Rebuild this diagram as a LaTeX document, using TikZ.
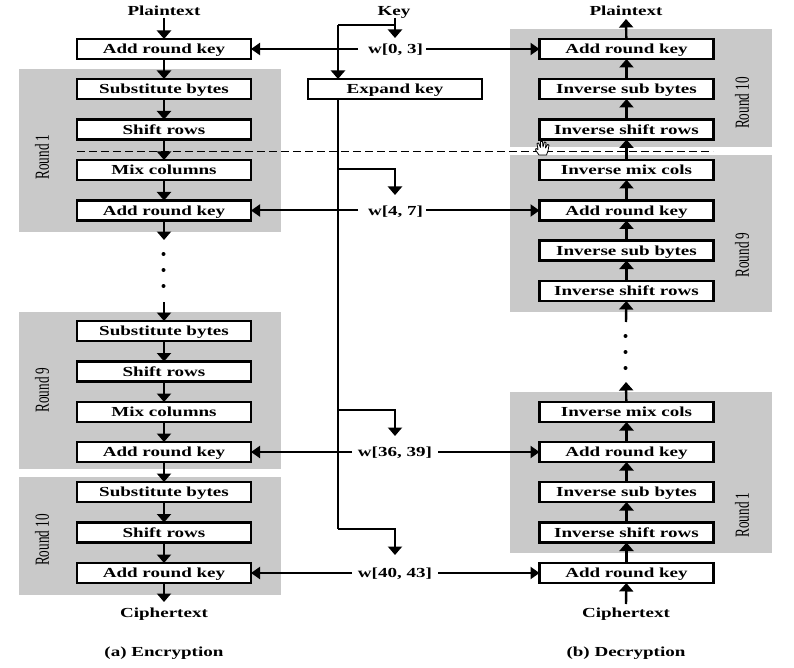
\documentclass[tikz,border=0pt]{standalone}
\usepackage{fontspec}
\usepackage{tikz}
\usetikzlibrary{arrows.meta}
\setmainfont[FakeStretch=1.38]{Liberation Serif}
\newfontfamily\roundfont[FakeStretch=0.66]{Liberation Serif}
\definecolor{bandgray}{HTML}{C9C9C9}
\tikzset{
	band/.style={shape=rectangle,fill=bandgray,minimum width=262pt,outer sep=0pt},
	box/.style={shape=rectangle,draw=black,fill=white,line width=2.4pt,minimum width=174pt,minimum height=20pt,inner sep=0pt,outer sep=0pt,font=\fontsize{13.8}{15}\selectfont\bfseries,text height=10.5pt,text depth=1.3pt},
	thinbox/.style={box,line width=1.8pt},
	txt/.style={inner sep=0pt,outer sep=0pt,font=\fontsize{13.8}{15}\selectfont\bfseries,text height=10.5pt,text depth=1.3pt},
	wlabel/.style={txt,minimum height=10pt},
	roundlabel/.style={inner sep=0pt,rotate=90,font=\fontsize{20}{22}\selectfont\roundfont},
	dot/.style={shape=circle,fill=black,minimum size=4pt,inner sep=0pt},
	arr/.style={-{Triangle[length=8.5pt,width=14pt]},line width=2.4pt},
	warr/.style={-{Triangle[length=9pt,width=12pt]},line width=2pt},
	wire/.style={line width=2pt}
}
\begin{document}
\begin{tikzpicture}[x=1pt,y=-1pt]
	\useasboundingbox (0,0) rectangle (794,668);

	\node[band,minimum height=163pt] (bandE1) at (150, 150.5) {};
	\node[band,minimum height=157pt] (bandE9) at (150, 390.5) {};
	\node[band,minimum height=118pt] (bandE10) at (150, 536) {};
	\node[band,minimum height=118pt] (bandD10) at (641, 88) {};
	\node[band,minimum height=157pt] (bandD9) at (641, 233.5) {};
	\node[band,minimum height=161pt] (bandD1) at (641, 472.5) {};

	\node[roundlabel] (labE1) at (42, 157) {Round 1};
	\node[roundlabel] (labE9) at (42, 390) {Round 9};
	\node[roundlabel] (labE10) at (42, 540) {Round 10};
	\node[roundlabel] (labD10) at (742, 103) {Round 10};
	\node[roundlabel] (labD9) at (742, 255) {Round 9};
	\node[roundlabel] (labD1) at (742, 515) {Round 1};

	\draw[dashed,line width=1pt,dash pattern=on 8pt off 4pt] (77,151.5) -- (713,151.5);

	\node[txt] (pe) at (164, 11) {Plaintext};
	\node[txt] (ce) at (164, 612.4) {Ciphertext};
	\node[txt] (pd) at (626, 11) {Plaintext};
	\node[txt] (cd) at (626, 612.4) {Ciphertext};
	\node[txt] (key) at (394, 11) {Key};
	\node[txt] (capa) at (164, 652) {(a) Encryption};
	\node[txt] (capb) at (626, 652) {(b) Decryption};

	\node[box] (e0) at (164, 49) {Add round key};
	\node[box] (e1) at (164, 89) {Substitute bytes};
	\node[box] (e2) at (164, 129.5) {Shift rows};
	\node[box] (e3) at (164, 170) {Mix columns};
	\node[box] (e4) at (164, 210.5) {Add round key};
	\node[box] (e5) at (164, 331) {Substitute bytes};
	\node[box] (e6) at (164, 371.5) {Shift rows};
	\node[box] (e7) at (164, 412) {Mix columns};
	\node[box] (e8) at (164, 452) {Add round key};
	\node[box] (e9) at (164, 492) {Substitute bytes};
	\node[box] (e10) at (164, 532.5) {Shift rows};
	\node[box] (e11) at (164, 573) {Add round key};

	\node[box] (d0) at (626.5, 49) {Add round key};
	\node[box] (d1) at (626.5, 89) {Inverse sub bytes};
	\node[box] (d2) at (626.5, 129.5) {Inverse shift rows};
	\node[box] (d3) at (626.5, 170) {Inverse mix cols};
	\node[box] (d4) at (626.5, 210.5) {Add round key};
	\node[box] (d5) at (626.5, 250.5) {Inverse sub bytes};
	\node[box] (d6) at (626.5, 291) {Inverse shift rows};
	\node[box] (d7) at (626.5, 412) {Inverse mix cols};
	\node[box] (d8) at (626.5, 452) {Add round key};
	\node[box] (d9) at (626.5, 492) {Inverse sub bytes};
	\node[box] (d10) at (626.5, 532.5) {Inverse shift rows};
	\node[box] (d11) at (626.5, 573) {Add round key};

	\node[thinbox] (exp) at (395, 89) {Expand key};

	\node[wlabel,minimum width=61pt] (w0) at (395.5, 49) {w[0, 3]};
	\node[wlabel,minimum width=61pt] (w4) at (395.5, 210.5) {w[4, 7]};
	\node[wlabel,minimum width=86pt] (w36) at (395, 452) {w[36, 39]};
	\node[wlabel,minimum width=86pt] (w40) at (395, 573) {w[40, 43]};

	\node[dot] (l1) at (163.5, 254) {};
	\node[dot] (l2) at (163.5, 270) {};
	\node[dot] (l3) at (163.5, 286) {};
	\node[dot] (r1) at (625.5, 336) {};
	\node[dot] (r2) at (625.5, 352) {};
	\node[dot] (r3) at (625.5, 368) {};

	\coordinate (ks) at (395, 18);
	\coordinate (kt) at (395, 38);
	\coordinate (kb) at (395, 25);
	\coordinate (ke) at (338, 25);
	\coordinate (ex) at (338, 79);
	\coordinate (ed) at (338, 99);
	\coordinate (b4) at (338, 169);
	\coordinate (b36) at (338, 410);
	\coordinate (b40) at (338, 529);
	\coordinate (t4) at (395, 195);
	\coordinate (t36) at (395, 436);
	\coordinate (t40) at (395, 555);
	\coordinate (pes) at (164, 18);
	\coordinate (pdt) at (626, 19);
	\coordinate (ces) at (164, 602);
	\coordinate (cds) at (626, 604);
	\coordinate (lo) at (164, 240);
	\coordinate (li) at (164, 302);
	\coordinate (ro) at (626, 322);
	\coordinate (ri) at (626, 382);

	\path[arr] (pes) edge (e0);
	\path[arr] (e0) edge (e1);
	\path[arr] (e1) edge (e2);
	\path[arr] (e2) edge (e3);
	\path[arr] (e3) edge (e4);
	\path[arr] (e4) edge (lo);
	\path[arr] (li) edge (e5);
	\path[arr] (e5) edge (e6);
	\path[arr] (e6) edge (e7);
	\path[arr] (e7) edge (e8);
	\path[arr] (e8) edge (e9);
	\path[arr] (e9) edge (e10);
	\path[arr] (e10) edge (e11);
	\path[arr] (e11) edge (ces);

	\path[arr] (cds) edge (d11);
	\path[arr] (d11) edge (d10);
	\path[arr] (d10) edge (d9);
	\path[arr] (d9) edge (d8);
	\path[arr] (d8) edge (d7);
	\path[arr] (d7) edge (ri);
	\path[arr] (ro) edge (d6);
	\path[arr] (d6) edge (d5);
	\path[arr] (d5) edge (d4);
	\path[arr] (d4) edge (d3);
	\path[arr] (d3) edge (d2);
	\path[arr] (d2) edge (d1);
	\path[arr] (d1) edge (d0);
	\path[arr] (d0) edge (pdt);

	\path[arr] (ks) edge (kt);
	\draw[wire] (kb) -- (ke);
	\draw[arr] (ke) -- (ex);
	\draw[wire] (ed) -- (b40);
	\draw[arr] (b4) -| (t4);
	\draw[arr] (b36) -| (t36);
	\draw[arr] (b40) -| (t40);

	\path[warr,shorten <=7pt] (w0) edge (e0);
	\path[warr] (w0) edge (d0);
	\path[warr,shorten <=7pt] (w4) edge (e4);
	\path[warr] (w4) edge (d4);
	\path[warr] (w36) edge (e8);
	\path[warr] (w36) edge (d8);
	\path[warr] (w40) edge (e11);
	\path[warr] (w40) edge (d11);

	\draw[fill=white,line width=0.8pt,line join=round] (539,155) -- (535.5,150) -- (536,148.5) -- (538,149.5) -- (537,143.5) -- (538.5,143) -- (540.5,147.5) -- (540.5,141.5) -- (542.5,141.5) -- (543,147) -- (544.5,142) -- (546,142.5) -- (545.5,148) -- (547.5,144.5) -- (549,145) -- (548,151) -- (546.5,155) -- cycle;
\end{tikzpicture}
\end{document}
